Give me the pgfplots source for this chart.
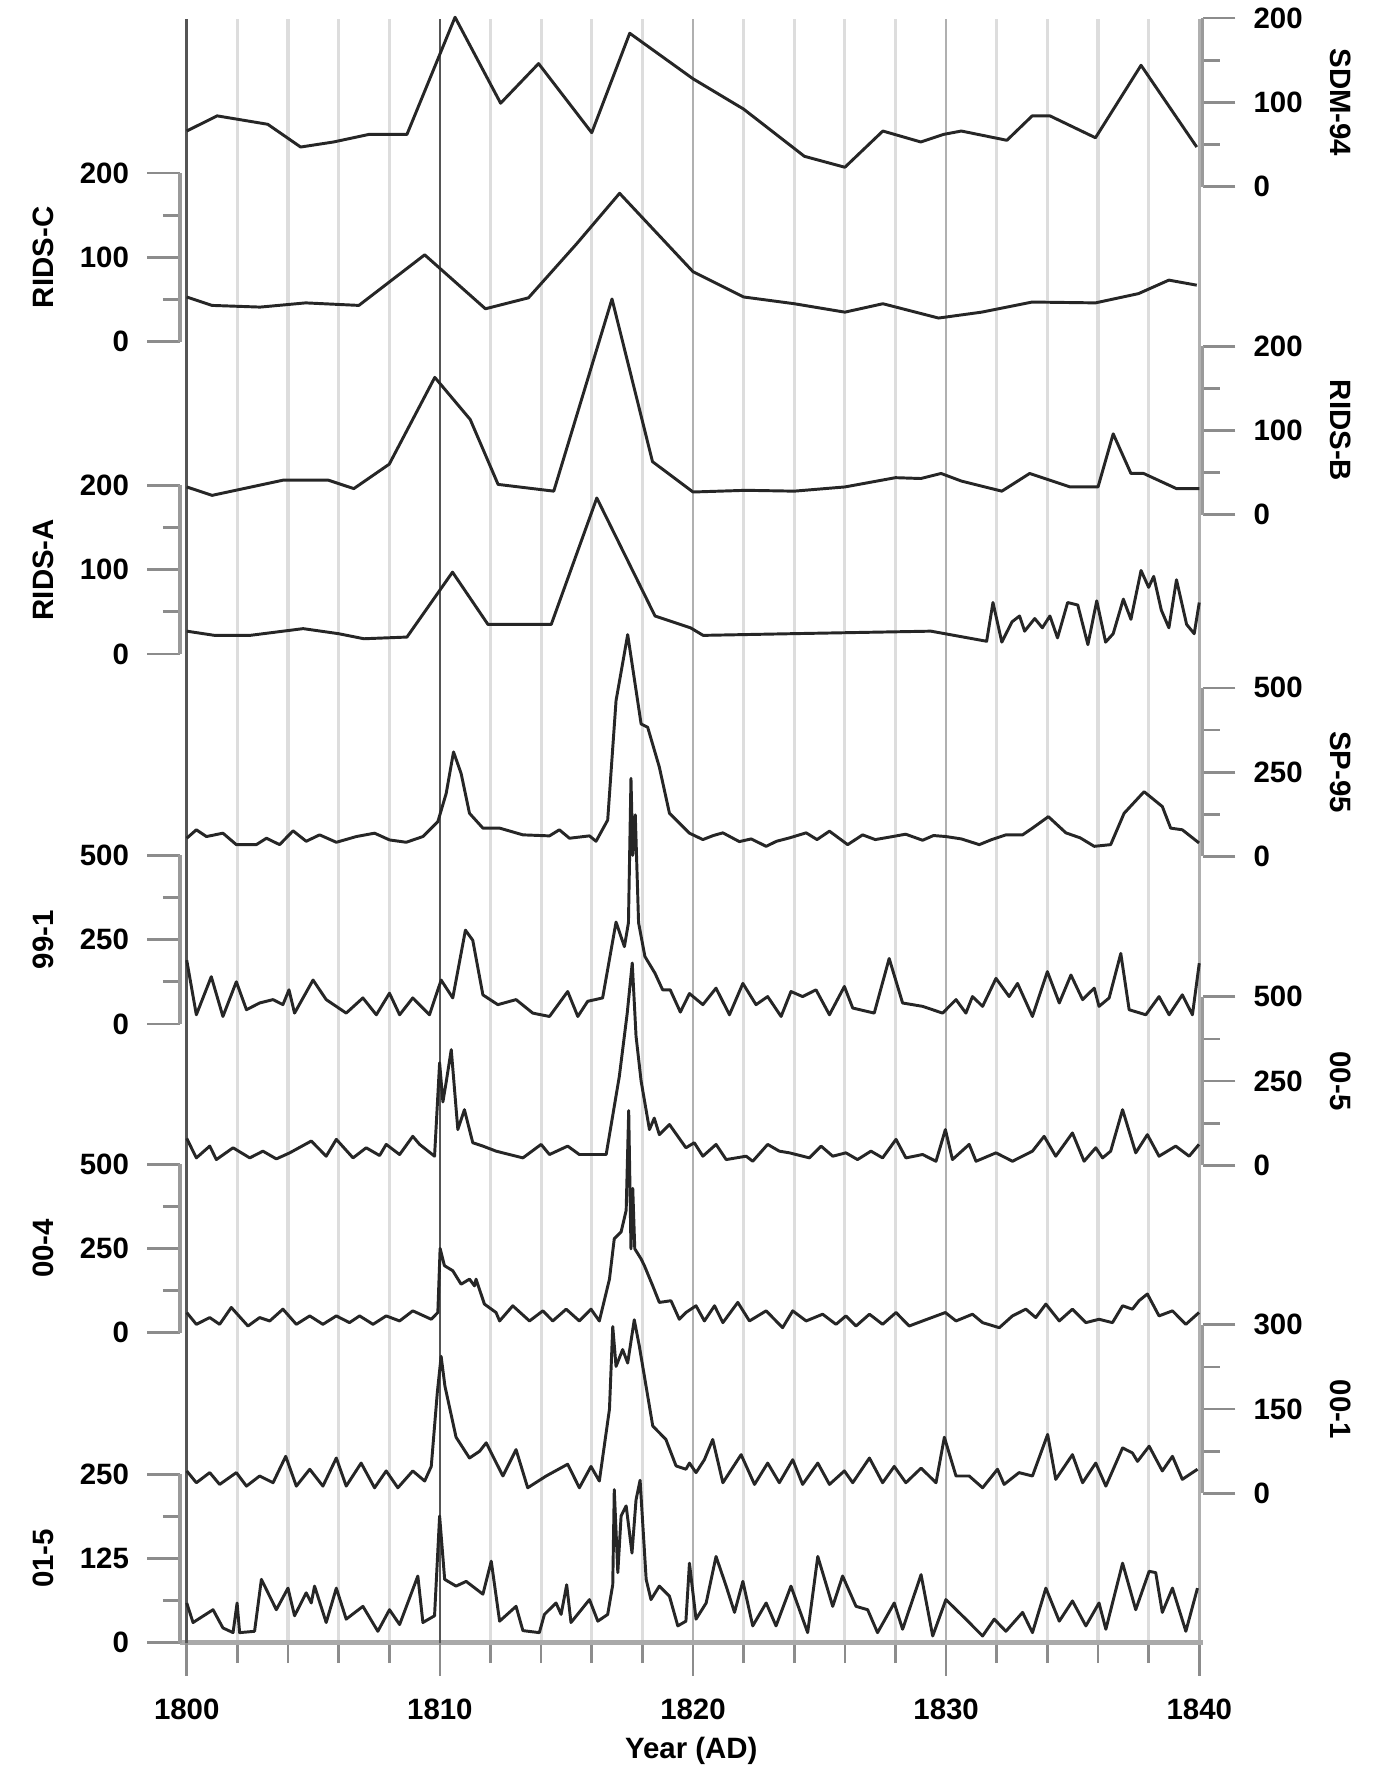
\documentclass[border=0pt]{standalone}
\usepackage{pgfplots}
\pgfplotsset{compat=1.18}
\usepackage{fontspec}
\setmainfont{Liberation Sans}
\newlength\px
\setlength\px{0.5pt}
\definecolor{linec}{HTML}{262626}
\definecolor{axisg}{HTML}{9A9A9A}
\definecolor{tickg}{HTML}{8C8C8C}
\definecolor{gridl}{HTML}{DDDDDD}
\definecolor{gridm}{HTML}{B0B0B0}
\definecolor{gridd}{HTML}{555555}
\newcommand\lab{\fontsize{13}{15}\selectfont\bfseries}
\pgfplotsset{
  base/.style={
    scale only axis, width=904\px,
    xmin=1799.73, xmax=1840.134,
    tick align=outside,
    major tick length=29\px, minor tick length=15\px,
    tick style={draw=tickg, line width=1.2pt},
    axis line style={-, draw=axisg, line width=1.5pt},
    /pgf/number format/assume math mode=true,
    /pgf/number format/1000 sep={},
    tick label style={font=\lab},
  },
  series/.style={base, height=149\px, clip=false, hide x axis, minor y tick num=1},
  lefts/.style={series, axis y line*=left, yticklabel style={xshift=-9\px}},
  rights/.style={series, axis y line*=right, yticklabel style={xshift=9\px}},
  trace/.style={draw=linec, line width=1.3pt, line join=round, mark=none},
}
\tikzset{
  namel/.style={xshift=-121\px, rotate=90, font=\lab},
  namer/.style={xshift=122\px, rotate=-90, font=\lab},
}
\begin{document}
\begin{tikzpicture}
\useasboundingbox (0,0) rectangle (1237\px,1568\px);

% grid and time axis
\begin{axis}[base, at={(159\px,116\px)}, anchor=south west, height=1435\px,
  hide y axis, axis x line*=bottom, ymin=0, ymax=1,
  xtick={1800,1810,...,1840}, minor x tick num=4,
  major tick length=29\px, minor tick length=18\px,
  xmajorgrids, xminorgrids,
  major grid style={draw=gridm, line width=1.1pt},
  minor grid style={draw=gridl, line width=1.4pt},
  extra x ticks={1800,1810}, extra x tick labels={},
  extra x tick style={major grid style={draw=gridd, line width=1.1pt}},
  x axis line style={draw=axisg!85, line width=2.2pt},
  xticklabel style={yshift=-14\px},
  xlabel={Year (AD)},
  xlabel style={at={(rel axis cs:0.5,0)}, anchor=center, yshift=-96\px, font=\lab},
]
\end{axis}

% SDM-94
\begin{axis}[rights, at={(159\px,1403\px)}, anchor=south west,
  ymin=0, ymax=200, ytick={0,100,200}]
\addplot[trace] coordinates {(1800,66)(1801.2,84)(1803.2,74)(1804.5,47)(1805.8,53)(1807.2,62)(1808.7,62)(1810.6,201)(1812.4,99)(1813.9,146)(1816,64)(1817.5,182)(1820,128)(1822,92)(1824.4,36)(1826,23)(1827.5,66)(1829,53)(1829.9,62)(1830.6,66)(1832.4,55)(1833.4,84)(1834.1,84)(1835.9,58)(1837.7,144)(1839.9,47)};
\node[namer] at (rel axis cs:1,0.5) {SDM-94};
\end{axis}

% RIDS-C
\begin{axis}[lefts, at={(159\px,1266\px)}, anchor=south west,
  ymin=0, ymax=200, ytick={0,100,200}]
\addplot[trace] coordinates {(1800,53)(1801,43)(1802.9,41)(1804.7,46)(1806.8,43)(1809.4,103)(1811.8,39)(1813.5,52)(1815.4,116)(1817.1,176)(1820,83)(1822,53)(1824,45)(1826,35)(1827.5,45)(1829.7,28)(1831.4,35)(1833.4,47)(1835.9,46)(1837.6,57)(1838.8,73)(1839.9,67)};
\node[namel] at (rel axis cs:0,0.5) {RIDS-C};
\end{axis}

% RIDS-B
\begin{axis}[rights, at={(159\px,1113\px)}, anchor=south west,
  ymin=0, ymax=200, ytick={0,100,200}]
\addplot[trace] coordinates {(1800,33)(1801,23)(1803.8,41)(1805.6,41)(1806.6,31)(1808,60)(1809.8,163)(1811.2,113)(1812.3,36)(1814.5,28)(1816.8,256)(1818.4,63)(1820,27)(1822.1,29)(1824,28)(1826,33)(1828,44)(1829,43)(1829.8,49)(1830.6,40)(1832.2,28)(1833.3,49)(1834.9,33)(1836,33)(1836.6,96)(1837.3,49)(1837.8,49)(1839.1,31)(1840,31)};
\node[namer] at (rel axis cs:1,0.5) {RIDS-B};
\end{axis}

% RIDS-A
\begin{axis}[lefts, at={(159\px,990\px)}, anchor=south west,
  ymin=0, ymax=200, ytick={0,100,200}]
\addplot[trace] coordinates {(1800,27)(1801.1,22)(1802.5,22)(1804.6,30)(1806,24)(1807,18)(1808.7,20)(1810.5,97)(1811.9,35)(1814.4,35)(1816.2,185)(1818.5,45)(1819.9,31)(1820.4,22)(1823.9,24)(1829.4,27)(1831.6,15)(1831.85,61)(1832.2,14)(1832.6,38)(1832.9,45)(1833.1,27)(1833.5,42)(1833.8,31)(1834.1,45)(1834.4,19)(1834.8,61)(1835.2,58)(1835.6,11)(1835.95,63)(1836.3,14)(1836.6,24)(1837.0,65)(1837.3,41)(1837.7,99)(1838.0,79)(1838.2,92)(1838.5,52)(1838.8,31)(1839.1,88)(1839.5,35)(1839.8,24)(1840,61)};
\node[namel] at (rel axis cs:0,0.5) {RIDS-A};
\end{axis}

% SP-95
\begin{axis}[rights, at={(159\px,811\px)}, anchor=south west,
  ymin=0, ymax=500, ytick={0,250,500}]
\addplot[trace] coordinates {(1800.0,54)(1800.38,79)(1800.78,59)(1801.43,69)(1801.96,35)(1802.75,35)(1803.15,54)(1803.67,35)(1804.2,76)(1804.72,45)(1805.25,64)(1805.91,42)(1806.7,59)(1807.42,69)(1808.01,49)(1808.67,42)(1809.33,59)(1809.92,103)(1810.25,187)(1810.54,310)(1810.84,246)(1811.17,128)(1811.7,84)(1812.36,84)(1813.28,64)(1814.33,61)(1814.72,79)(1815.12,54)(1815.91,61)(1816.17,45)(1816.63,108)(1816.96,462)(1817.42,658)(1817.95,393)(1818.21,383)(1818.67,265)(1819.07,128)(1819.86,69)(1820.39,50)(1820.8,62)(1821.18,70)(1821.83,44)(1822.3,52)(1822.89,30)(1823.3,45)(1823.81,55)(1824.47,70)(1824.9,50)(1825.39,75)(1826.11,35)(1826.7,64)(1827.2,50)(1827.89,59)(1828.4,66)(1829.07,48)(1829.5,62)(1829.99,59)(1830.6,52)(1831.31,35)(1831.8,50)(1832.36,64)(1833.02,64)(1833.41,84)(1834.04,118)(1834.73,70)(1835.3,55)(1835.85,30)(1836.5,35)(1837.03,128)(1837.82,192)(1838.54,148)(1838.87,84)(1839.33,79)(1839.99,40)};
\node[namer] at (rel axis cs:1,0.5) {SP-95};
\end{axis}

% 99-1
\begin{axis}[lefts, at={(159\px,663\px)}, anchor=south west,
  ymin=0, ymax=500, ytick={0,250,500}]
\addplot[trace] coordinates {(1800.0,189)(1800.38,27)(1800.97,140)(1801.43,22)(1801.96,125)(1802.36,42)(1802.88,62)(1803.41,72)(1803.8,57)(1804.04,101)(1804.26,32)(1804.99,130)(1805.51,72)(1806.3,32)(1806.96,77)(1807.49,27)(1808.01,91)(1808.41,27)(1808.93,77)(1809.59,27)(1810.05,130)(1810.51,77)(1811.01,278)(1811.3,248)(1811.7,86)(1812.29,57)(1813.01,72)(1813.67,32)(1814.33,22)(1815.05,96)(1815.45,22)(1815.84,67)(1816.43,77)(1816.96,302)(1817.29,229)(1817.45,300)(1817.55,728)(1817.62,500)(1817.72,620)(1817.85,300)(1818.1,200)(1818.5,150)(1818.8,101)(1819.1,101)(1819.5,35)(1819.86,90)(1820.39,57)(1820.91,106)(1821.44,27)(1821.97,120)(1822.49,57)(1822.95,81)(1823.48,22)(1823.87,96)(1824.33,81)(1824.86,101)(1825.39,27)(1825.98,111)(1826.31,47)(1827.16,32)(1827.75,194)(1828.28,62)(1829.07,52)(1829.86,32)(1830.39,72)(1830.78,32)(1831.04,81)(1831.44,52)(1831.97,135)(1832.49,81)(1832.82,120)(1833.41,22)(1834.0,155)(1834.47,62)(1834.93,145)(1835.39,72)(1835.85,106)(1836.04,52)(1836.44,77)(1836.9,209)(1837.23,42)(1837.89,27)(1838.41,81)(1838.81,27)(1839.33,86)(1839.73,27)(1840.0,180)};
\node[namel] at (rel axis cs:0,0.5) {99-1};
\end{axis}

% 00-5
\begin{axis}[rights, at={(159\px,538\px)}, anchor=south west,
  ymin=0, ymax=500, ytick={0,250,500}]
\addplot[trace] coordinates {(1800.0,80)(1800.38,22)(1800.91,57)(1801.17,17)(1801.83,52)(1802.49,22)(1803.01,42)(1803.54,19)(1804.07,37)(1804.92,72)(1805.51,27)(1805.91,77)(1806.57,22)(1807.09,52)(1807.62,29)(1807.88,62)(1808.41,32)(1808.93,86)(1809.2,62)(1809.79,27)(1809.99,304)(1810.12,188)(1810.25,247)(1810.45,343)(1810.71,106)(1810.97,165)(1811.3,67)(1811.7,57)(1812.22,42)(1813.28,22)(1814.0,62)(1814.33,32)(1815.05,57)(1815.51,32)(1816.57,32)(1817.09,264)(1817.4,450)(1817.6,600)(1817.75,383)(1817.95,250)(1818.28,106)(1818.47,140)(1818.67,91)(1819.07,121)(1819.72,52)(1820.05,67)(1820.39,27)(1820.91,62)(1821.31,17)(1822.1,27)(1822.36,12)(1822.95,62)(1823.41,42)(1823.81,37)(1824.6,22)(1825.06,57)(1825.52,27)(1826.04,37)(1826.5,17)(1827.03,42)(1827.49,22)(1828.02,77)(1828.41,22)(1829.07,32)(1829.6,12)(1829.97,106)(1830.25,17)(1830.91,62)(1831.18,12)(1831.97,37)(1832.62,12)(1833.41,42)(1833.87,86)(1834.33,27)(1834.99,96)(1835.45,12)(1835.91,52)(1836.18,22)(1836.5,42)(1836.97,165)(1837.49,37)(1837.95,91)(1838.41,27)(1839.07,57)(1839.6,27)(1839.99,62)};
\node[namer] at (rel axis cs:1,0.5) {00-5};
\end{axis}

% 00-4
\begin{axis}[lefts, at={(159\px,390\px)}, anchor=south west,
  ymin=0, ymax=500, ytick={0,250,500}]
\addplot[trace] coordinates {(1800.0,60)(1800.38,25)(1800.91,45)(1801.3,25)(1801.76,75)(1802.42,20)(1802.88,45)(1803.28,35)(1803.8,70)(1804.33,25)(1804.86,50)(1805.38,25)(1805.91,50)(1806.43,30)(1806.83,50)(1807.36,25)(1807.88,50)(1808.41,35)(1808.93,65)(1809.66,40)(1809.92,60)(1810.01,250)(1810.18,199)(1810.51,184)(1810.84,144)(1811.17,159)(1811.37,139)(1811.43,159)(1811.76,85)(1812.22,60)(1812.36,35)(1812.88,80)(1813.54,35)(1814.07,65)(1814.46,35)(1814.99,70)(1815.51,35)(1815.97,70)(1816.3,35)(1816.7,159)(1816.89,279)(1817.16,299)(1817.36,363)(1817.46,659)(1817.55,249)(1817.62,428)(1817.7,249)(1817.95,219)(1818.08,199)(1818.41,139)(1818.67,90)(1819.13,95)(1819.46,40)(1819.72,60)(1820.12,80)(1820.45,35)(1820.85,80)(1821.18,30)(1821.77,90)(1822.23,35)(1822.89,65)(1823.54,15)(1823.94,65)(1824.47,35)(1825.12,55)(1825.65,25)(1826.04,50)(1826.44,20)(1826.97,55)(1827.49,25)(1828.02,60)(1828.54,20)(1829.07,35)(1829.97,60)(1830.39,35)(1831.04,55)(1831.44,30)(1832.1,15)(1832.62,50)(1833.15,70)(1833.54,45)(1833.94,85)(1834.47,35)(1834.99,70)(1835.52,30)(1836.04,40)(1836.57,30)(1836.97,80)(1837.36,70)(1837.62,95)(1837.95,115)(1838.41,50)(1838.94,65)(1839.47,25)(1839.99,60)};
\node[namel] at (rel axis cs:0,0.5) {00-4};
\end{axis}

% 00-1
\begin{axis}[rights, at={(159\px,248\px)}, anchor=south west,
  ymin=0, ymax=300, ytick={0,150,300}]
\addplot[trace] coordinates {(1800.0,40)(1800.38,19)(1800.91,37)(1801.3,16)(1801.96,37)(1802.36,13)(1802.88,31)(1803.41,19)(1803.91,66)(1804.33,13)(1804.86,43)(1805.38,13)(1805.91,63)(1806.3,13)(1806.89,54)(1807.42,10)(1807.88,40)(1808.34,10)(1808.93,40)(1809.4,22)(1809.66,48)(1809.9,180)(1810.05,244)(1810.2,191)(1810.64,100)(1811.17,63)(1811.57,75)(1811.83,90)(1812.49,31)(1813.01,78)(1813.47,10)(1814.2,31)(1815.05,52)(1815.51,10)(1815.97,48)(1816.3,22)(1816.7,150)(1816.83,297)(1816.96,226)(1817.22,256)(1817.42,232)(1817.68,309)(1817.88,262)(1818.41,120)(1818.67,108)(1818.93,96)(1819.33,49)(1819.72,43)(1819.86,54)(1820.12,37)(1820.45,60)(1820.78,96)(1821.18,19)(1821.9,69)(1822.43,16)(1822.95,54)(1823.41,19)(1823.94,60)(1824.33,16)(1824.93,54)(1825.39,16)(1825.98,40)(1826.31,19)(1826.97,63)(1827.49,19)(1827.95,48)(1828.41,19)(1829.01,45)(1829.6,19)(1829.93,100)(1830.39,31)(1830.91,31)(1831.44,10)(1832.03,43)(1832.29,16)(1832.88,37)(1833.41,31)(1834.01,105)(1834.33,25)(1834.99,69)(1835.39,19)(1835.91,54)(1836.31,13)(1836.97,81)(1837.36,72)(1837.56,57)(1838.02,84)(1838.54,40)(1838.94,66)(1839.33,25)(1839.93,43)};
\node[namer] at (rel axis cs:1,0.5) {00-1};
\end{axis}

% 01-5
\begin{axis}[lefts, at={(159\px,116\px)}, anchor=south west,
  ymin=0, ymax=250, ytick={0,125,250}]
\addplot[trace] coordinates {(1800.0,59)(1800.25,30)(1801.04,49)(1801.43,22)(1801.83,15)(1801.99,59)(1802.09,15)(1802.68,17)(1802.95,94)(1803.54,49)(1804.0,81)(1804.26,40)(1804.72,74)(1804.92,59)(1805.05,84)(1805.51,30)(1805.91,81)(1806.3,35)(1806.96,54)(1807.55,17)(1808.01,49)(1808.41,27)(1809.13,99)(1809.33,30)(1809.79,40)(1809.99,188)(1810.19,94)(1810.64,84)(1811.04,91)(1811.7,72)(1812.03,121)(1812.36,32)(1813.01,54)(1813.28,18)(1813.93,15)(1814.13,42)(1814.59,59)(1814.79,42)(1815.01,86)(1815.18,30)(1815.91,64)(1816.24,32)(1816.63,42)(1816.83,86)(1816.89,227)(1817.03,104)(1817.16,188)(1817.36,203)(1817.59,133)(1817.75,212)(1817.91,241)(1818.15,94)(1818.34,64)(1818.67,84)(1819.07,69)(1819.4,25)(1819.72,32)(1819.86,118)(1820.12,35)(1820.52,59)(1820.91,128)(1821.31,84)(1821.64,45)(1821.97,91)(1822.36,25)(1822.89,59)(1823.28,25)(1823.87,84)(1824.53,15)(1824.93,128)(1825.52,54)(1825.91,99)(1826.44,54)(1826.9,49)(1827.29,15)(1827.95,59)(1828.28,20)(1829.01,101)(1829.47,10)(1829.99,64)(1830.78,35)(1831.44,10)(1831.9,35)(1832.36,17)(1833.02,45)(1833.41,15)(1833.94,81)(1834.47,32)(1834.99,62)(1835.52,25)(1836.04,59)(1836.31,20)(1836.97,118)(1837.49,49)(1838.02,106)(1838.28,104)(1838.54,45)(1838.94,81)(1839.47,17)(1839.93,81)};
\node[namel] at (rel axis cs:0,0.5) {01-5};
\end{axis}
\end{tikzpicture}
\end{document}
